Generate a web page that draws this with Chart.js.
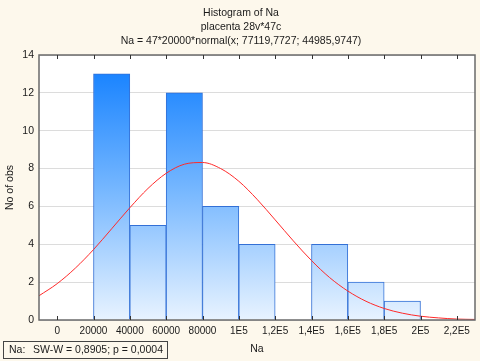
<!DOCTYPE html>
<html><head><meta charset="utf-8">
<script src="https://cdn.jsdelivr.net/npm/chart.js@4/dist/chart.umd.min.js"></script>
<style>html,body{margin:0;padding:0;background:#fdf8ec;}canvas{display:block;}</style>
</head><body>
<canvas id="c" width="480" height="361"></canvas>
<script>
// ---- data ----
const binStarts = [20000, 40000, 60000, 80000, 100000, 120000, 140000, 160000, 180000];
const binCounts = [13, 5, 12, 6, 4, 0, 4, 2, 1];
const binWidth = 20000;
const curveX = [-10000, 0, 10000, 20000, 30000, 40000, 50000, 60000, 70000, 80000, 90000, 100000,
  110000, 120000, 130000, 140000, 150000, 160000, 170000, 180000, 190000, 200000, 210000, 220000, 230000];
const curveY = [1.28, 1.92, 2.74, 3.72, 4.82, 5.93, 6.95, 7.75, 8.23, 8.32, 8.00, 7.33,
  6.38, 5.29, 4.18, 3.14, 2.24, 1.53, 0.99, 0.61, 0.36, 0.20, 0.11, 0.05, 0.03];
const xTickValues = [0, 20000, 40000, 60000, 80000, 100000, 120000, 140000, 160000, 180000, 200000, 220000];
const xTickLabels = ["0", "20000", "40000", "60000", "80000", "1E5", "1,2E5", "1,4E5", "1,6E5", "1,8E5", "2E5", "2,2E5"];
const yTickValues = [0, 2, 4, 6, 8, 10, 12, 14];
const titleLines = ["Histogram of Na", "placenta 28v*47c", "Na = 47*20000*normal(x; 77119,7727; 44985,9747)"];
const statLabel = "Na:";
const statText = "SW-W = 0,8905; p = 0,0004";
const xTitle = "Na";
const yTitle = "No of obs";

const FONT = "'Liberation Sans', Arial, sans-serif";
const BG = '#fdf8ec';
const TXT = '#1a1a1a';

const barData = binStarts.map((s, i) => ({x: s + binWidth / 2, y: binCounts[i]}));
const curveData = curveX.map((x, i) => ({x: x, y: curveY[i]}));

function barGradient(ctx) {
  const chart = ctx.chart;
  const a = chart.chartArea;
  if (!a) return '#5aa8ff';
  const g = chart.ctx.createLinearGradient(0, a.top, 0, a.bottom);
  g.addColorStop(0, '#0c7cff');
  g.addColorStop(0.5, '#74b6ff');
  g.addColorStop(1, '#e8f3ff');
  return g;
}

const decor = {
  id: 'decor',
  beforeDraw(chart) {
    const c = chart.ctx, a = chart.chartArea;
    c.save();
    c.fillStyle = BG;
    c.fillRect(0, 0, chart.width, chart.height);
    c.fillStyle = '#ffffff';
    c.fillRect(a.left, a.top, a.right - a.left, a.bottom - a.top);
    c.restore();
  },
  afterDraw(chart) {
    const c = chart.ctx, a = chart.chartArea;
    const xs = chart.scales.x;
    c.save();
    // frame
    c.strokeStyle = '#6a6a6a';
    c.lineWidth = 1.5;
    c.strokeRect(a.left, a.top, a.right - a.left, a.bottom - a.top);
    // inside tick marks on top and bottom axes
    c.strokeStyle = '#333';
    c.lineWidth = 1;
    xTickValues.forEach(v => {
      const px = Math.round(xs.getPixelForValue(v)) + 0.5;
      c.beginPath();
      c.moveTo(px, a.bottom); c.lineTo(px, a.bottom - 4);
      c.moveTo(px, a.top); c.lineTo(px, a.top + 4);
      c.stroke();
    });
    // titles
    c.fillStyle = TXT;
    c.font = '10.5px ' + FONT;
    c.textAlign = 'center';
    c.textBaseline = 'middle';
    const cx = 241;
    [13, 27, 41].forEach((y, i) => c.fillText(titleLines[i], cx, y));
    // stat box
    c.fillStyle = BG;
    c.fillRect(3.5, 341.5, 164, 17);
    c.strokeStyle = '#444';
    c.lineWidth = 1;
    c.strokeRect(3.5, 341.5, 164, 17);
    c.fillStyle = TXT;
    c.textAlign = 'left';
    c.font = '10.5px ' + FONT;
    c.fillText(statLabel, 9, 350.5);
    c.fillText(statText, 33, 350.5);
    c.restore();
  }
};

new Chart(document.getElementById('c'), {
  type: 'bar',
  data: {
    datasets: [
      {
        type: 'line',
        data: curveData,
        borderColor: '#ff2a2a',
        borderWidth: 1,
        pointRadius: 0,
        cubicInterpolationMode: 'monotone',
        fill: false,
        order: 0
      },
      {
        type: 'bar',
        data: barData,
        backgroundColor: barGradient,
        borderColor: '#3370d6',
        borderWidth: 1,
        barPercentage: 1,
        categoryPercentage: 1,
        grouped: false,
        order: 1
      }
    ]
  },
  options: {
    responsive: false,
    animation: false,
    events: [],
    layout: {padding: {left: 0, right: 5, top: 55, bottom: 0}},
    plugins: {legend: {display: false}, tooltip: {enabled: false}, title: {display: false}},
    scales: {
      x: {
        type: 'linear',
        offset: false,
        min: -10000,
        max: 230000,
        afterBuildTicks(s) { s.ticks = xTickValues.map(v => ({value: v})); },
        afterFit(s) { s.height = 41; },
        grid: {display: false, drawTicks: false, offset: false},
        border: {display: false},
        ticks: {
          padding: 5,
          maxRotation: 0,
          autoSkip: false,
          color: TXT,
          font: {family: FONT, size: 10},
          callback: (v) => { const i = xTickValues.indexOf(v); return i >= 0 ? xTickLabels[i] : ''; }
        },
        title: {display: true, text: xTitle, color: TXT, font: {family: FONT, size: 10.5}, padding: {top: 0, bottom: 6}}
      },
      y: {
        type: 'linear',
        min: 0,
        max: 14,
        afterBuildTicks(s) { s.ticks = yTickValues.map(v => ({value: v})); },
        afterFit(s) { s.width = 39; },
        grid: {color: '#dcdcdc', lineWidth: 1, drawTicks: false},
        border: {display: false},
        ticks: {padding: 5, color: TXT, font: {family: FONT, size: 10.5}},
        title: {display: true, text: yTitle, color: TXT, font: {family: FONT, size: 10.5}, padding: {top: 4, bottom: 0}}
      }
    }
  },
  plugins: [decor]
});
</script>
</body></html>
